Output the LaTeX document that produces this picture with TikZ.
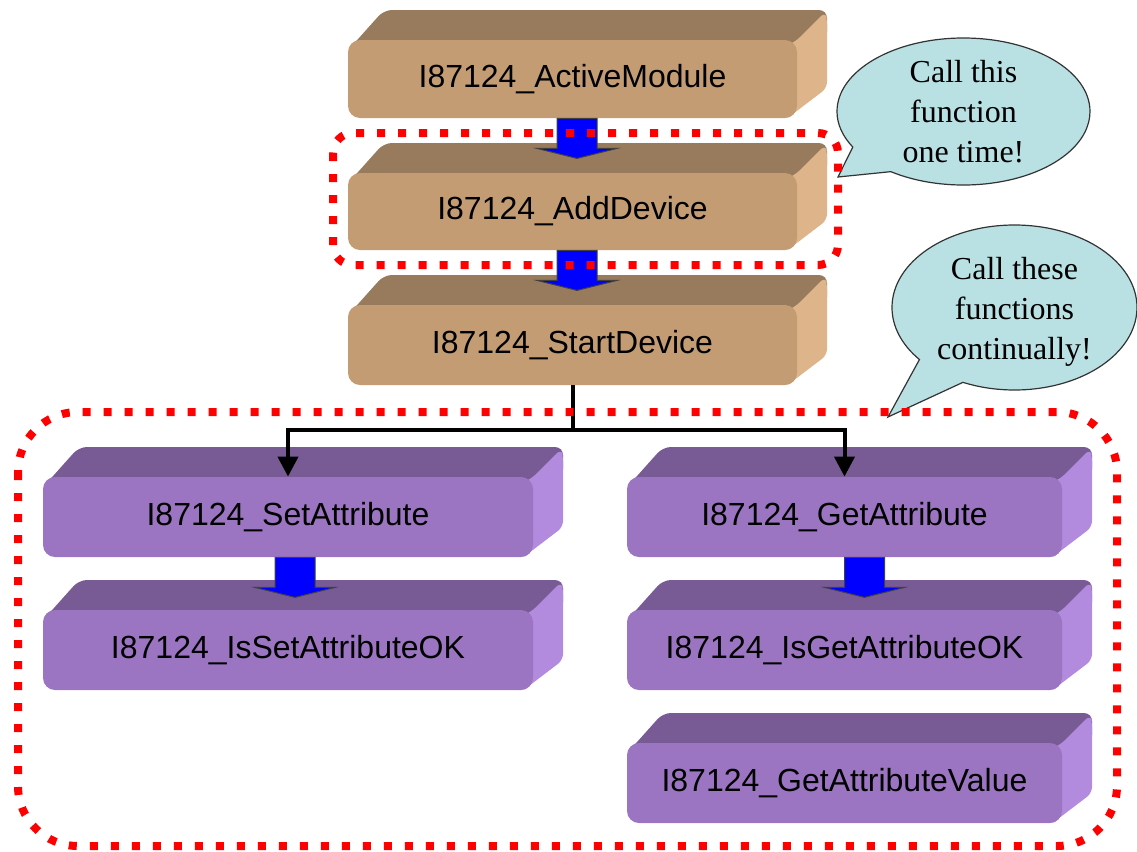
\documentclass[tikz,border=0pt]{standalone}
\usepackage{fontspec}
\setmainfont{Liberation Serif}
\newfontfamily\boxfont{Liberation Sans}
\usetikzlibrary{shapes.callouts,arrows.meta,calc}
\definecolor{tanfront}{HTML}{C49C74}
\definecolor{tantop}{HTML}{987A5C}
\definecolor{tanside}{HTML}{DEB48A}
\definecolor{purfront}{HTML}{9C75C2}
\definecolor{purtop}{HTML}{785B94}
\definecolor{purside}{HTML}{B28ADE}
\definecolor{bubble}{HTML}{B9E0E3}
\definecolor{dotred}{HTML}{FF0000}
\tikzset{
  frontface/.style={rounded corners=6pt, inner sep=0pt, draw=none,
    font=\boxfont\fontsize{16}{19}\selectfont, text=black},
  fatarrow/.style={fill=blue, draw=black!75, line width=0.5pt},
  connector/.style={line width=2pt, draw=black},
  reddots/.style={draw=dotred, line width=4pt, dash pattern=on 4pt off 6.5pt},
  bubbleshape/.style={ellipse callout, draw=black!80, line width=0.6pt, fill=bubble,
    inner sep=0pt, callout pointer arc=26},
  bubbletext/.style={align=center, font=\fontsize{16}{20}\selectfont, inner sep=0pt}
}
% #1 name, #2 L, #3 T, #4 R, #5 B, #6 colour prefix, #7 text
\newcommand\slab[7]{%
  \fill[#6top, rounded corners=4pt] (#2+2,#3+8) -- (#2+36,#3-30) -- (#4+30,#3-30) -- (#4+30,#3) -- (#4,#3+8) -- cycle;
  \fill[#6side, rounded corners=3pt] (#4-12,#3+6) -- (#4-2,#3+2) -- (#4+28,#3-28) -- (#4+30,#3-22) -- (#4+30,#5-30) -- (#4-12,#5+2) -- cycle;
  \pgfmathsetmacro\slabw{(#4-#2)*0.5}%
  \pgfmathsetmacro\slabh{(#5-#3)*0.5}%
  \node[frontface, fill=#6front, minimum width=\slabw pt, minimum height=\slabh pt]
    (#1) at ({(#2+#4)/2},{(#3+#5)/2}) {#7};
}
% #1 from node, #2 x offset
\newcommand\blockarrow[2]{%
  \filldraw[fatarrow] ($(#1.south)+(#2-20,0)$) -- ++(0,30) -- ++(-20,0) -- ++(40,10)
    -- ++(40,-10) -- ++(-20,0) -- ++(0,-30) -- cycle;
}
\begin{document}
\begin{tikzpicture}[x=0.5pt,y=-0.5pt]
\useasboundingbox (0,0) rectangle (1137,852);

% tan column
\slab{am}{348}{40}{797}{118}{tan}{I87124\_ActiveModule}
\slab{ad}{348}{173}{797}{250}{tan}{I87124\_AddDevice}
\slab{sd}{348}{305}{797}{385}{tan}{I87124\_StartDevice}

% purple boxes
\slab{sa}{43}{477}{533}{557}{pur}{I87124\_SetAttribute}
\slab{iso}{43}{610}{533}{690}{pur}{I87124\_IsSetAttributeOK}
\slab{ga}{627}{477}{1062}{557}{pur}{I87124\_GetAttribute}
\slab{igo}{627}{610}{1062}{690}{pur}{I87124\_IsGetAttributeOK}
\slab{gav}{627}{743}{1062}{823}{pur}{I87124\_GetAttributeValue}

% block arrows
\blockarrow{am}{4.5}
\blockarrow{ad}{4.5}
\blockarrow{sa}{7}
\blockarrow{ga}{20}

% branching connector
\draw[connector] (sd.south) -- ++(0,45) coordinate (split);
\draw[connector, -{Triangle[width=10pt,length=10pt]}] (split) -| (sa.north);
\draw[connector, -{Triangle[width=10pt,length=10pt]}] (split) -| (ga.north);

% callouts
\node[bubbleshape, minimum width=126.5pt, minimum height=73.5pt,
  callout absolute pointer={(838,177)}] (b1) at (963.5,111.5) {};
\node[bubbletext] (t1) at (b1.center) {Call this\\function\\one time!};
\node[bubbleshape, minimum width=122.5pt, minimum height=82.5pt,
  callout absolute pointer={(888,417)}] (b2) at (1014.5,307.5) {};
\node[bubbletext] (t2) at ($(b2.center)+(0,4)$) {Call these\\functions\\continually!};

% dotted groups
\draw[reddots, rounded corners=10pt] (333,133) rectangle (838,265);
\draw[reddots, rounded corners=30pt] (18,412) rectangle (1117,846);
\end{tikzpicture}
\end{document}
